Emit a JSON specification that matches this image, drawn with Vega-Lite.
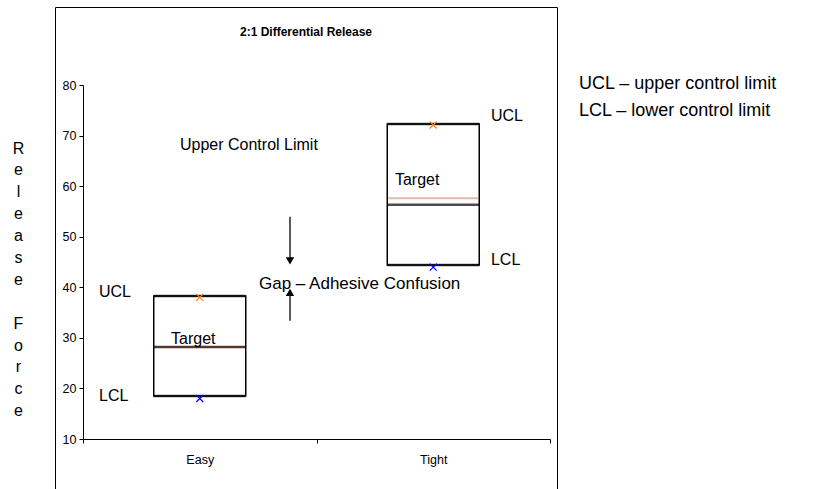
{
  "$schema": "https://vega.github.io/schema/vega-lite/v6.json",
  "width": 502,
  "height": 482,
  "autosize": {"type": "none"},
  "padding": {"left": 55, "top": 7, "right": 261, "bottom": 0},
  "background": "white",
  "config": {"view": {"stroke": "black", "strokeWidth": 1}, "font": "Liberation Sans"},
  "title": {
    "text": "2:1 Differential Release",
    "font": "Liberation Sans Narrow, Arial Narrow, Liberation Sans, sans-serif",
    "fontSize": 12,
    "fontWeight": "bold",
    "color": "black",
    "anchor": "middle",
    "baseline": "alphabetic",
    "offset": -41
  },
  "datasets": {
    "boxes": [
      {"grade": "Easy", "lower": 18.5, "upper": 38.3, "mean": 28.2, "target": 28.2, "ucl": 38.0, "lcl": 18.0},
      {"grade": "Tight", "lower": 44.4, "upper": 72.3, "mean": 56.3, "target": 57.6, "ucl": 72.1, "lcl": 44.0}
    ],
    "notes": [
      {"label": "Upper Control  Limit", "x": 0.4154, "y": 67.05, "role": "label"},
      {"label": "Target", "x": 1.336, "y": 60.2, "role": "label"},
      {"label": "UCL", "x": 1.747, "y": 72.8, "role": "label"},
      {"label": "LCL", "x": 1.747, "y": 44.4, "role": "label"},
      {"label": "Target", "x": 0.377, "y": 28.7, "role": "label"},
      {"label": "UCL", "x": 0.0685, "y": 38.1, "role": "label"},
      {"label": "LCL", "x": 0.0685, "y": 17.6, "role": "label"},
      {"label": "Gap – Adhesive Confusion", "x": 0.7537, "y": 39.6, "role": "gap"},
      {"label": "UCL – upper control limit", "x": 2.124, "y": 79.15, "role": "note"},
      {"label": "LCL –  lower control limit", "x": 2.124, "y": 73.87, "role": "note"}
    ],
    "arrows": [
      {"x": 0.8865, "from": 53.96, "to": 45.2, "dir": "down"},
      {"x": 0.8865, "from": 33.4, "to": 38.97, "dir": "up"}
    ]
  },
  "layer": [
    {
      "data": {"name": "boxes"},
      "encoding": {
        "x": {
          "field": "grade",
          "type": "nominal",
          "scale": {"domain": ["Easy", "Tight"], "range": [28, 495], "paddingInner": 0, "paddingOuter": 0},
          "axis": {
            "title": null,
            "orient": "bottom",
            "offset": -50,
            "tickBand": "extent",
            "tickSize": 4,
            "tickColor": "black",
            "domainColor": "black",
            "labelFont": "Liberation Sans Narrow, Arial Narrow, Liberation Sans, sans-serif",
            "labelFontSize": 12.5,
            "labelColor": "black",
            "labelPadding": 10,
            "labelAngle": 0,
            "grid": false
          }
        }
      },
      "layer": [
        {
          "mark": {"type": "bar", "width": {"band": 0.394}, "fill": "white", "fillOpacity": 0, "stroke": "black", "strokeWidth": 1.5},
          "encoding": {
            "y": {
              "field": "lower",
              "type": "quantitative",
              "scale": {"domain": [10, 80], "range": [432, 78], "nice": false, "zero": false},
              "axis": {
                "title": ["R", "e", "l", "e", "a", "s", "e", "\u2800", "F", "o", "r", "c", "e"],
                "titleAngle": 0,
                "titleFont": "Liberation Sans",
                "titleFontSize": 16,
                "titleFontWeight": "normal",
                "titleColor": "black",
                "titleLineHeight": 21.9,
                "titleX": -65,
                "titleY": 146,
                "titleAlign": "center",
                "titleBaseline": "alphabetic",
                "offset": -28,
                "values": [10, 20, 30, 40, 50, 60, 70, 80],
                "tickSize": 4,
                "tickColor": "black",
                "domainColor": "black",
                "labelPadding": 3,
                "labelFont": "Liberation Sans Narrow, Arial Narrow, Liberation Sans, sans-serif",
                "labelFontSize": 12.5,
                "labelColor": "black",
                "grid": false
              }
            },
            "y2": {"field": "upper"}
          }
        },
        {
          "mark": {"type": "tick", "size": 92, "thickness": 2.5, "color": "black"},
          "encoding": {"y": {"field": "upper", "type": "quantitative"}}
        },
        {
          "mark": {"type": "tick", "size": 92, "thickness": 2.5, "color": "black"},
          "encoding": {"y": {"field": "lower", "type": "quantitative"}}
        },
        {
          "mark": {"type": "tick", "size": 92, "thickness": 2.5, "color": "black"},
          "encoding": {"y": {"field": "mean", "type": "quantitative"}}
        },
        {
          "mark": {"type": "tick", "size": 90, "thickness": 2},
          "encoding": {
            "y": {"field": "target", "type": "quantitative"},
            "color": {"field": "grade", "type": "nominal", "scale": {"domain": ["Easy", "Tight"], "range": ["#5e2f14", "#d29c84"]}, "legend": null}
          }
        },
        {
          "mark": {"type": "point", "shape": "M-1,-1L1,1M1,-1L-1,1", "size": 49, "filled": false, "stroke": "#f5821f", "strokeWidth": 1.2, "opacity": 1},
          "encoding": {"y": {"field": "ucl", "type": "quantitative"}}
        },
        {
          "mark": {"type": "point", "shape": "M-1,-1L1,1M1,-1L-1,1", "size": 49, "filled": false, "stroke": "#0000ff", "strokeWidth": 1.2, "opacity": 1},
          "encoding": {"y": {"field": "lcl", "type": "quantitative"}}
        }
      ]
    },
    {
      "layer": [
        {
          "data": {"name": "notes"},
          "mark": {"type": "text", "align": "left", "baseline": "alphabetic", "font": "Liberation Sans", "color": "black"},
          "encoding": {
            "x": {"field": "x", "type": "quantitative", "scale": {"domain": [0, 2], "range": [28, 495], "nice": false, "zero": false}, "axis": null},
            "y": {"field": "y", "type": "quantitative"},
            "text": {"field": "label"},
            "size": {"field": "role", "type": "ordinal", "scale": {"domain": ["label", "gap", "note"], "range": [16, 18, 21]}, "legend": null}
          }
        },
        {
          "data": {"name": "arrows"},
          "mark": {"type": "rule", "color": "black", "strokeWidth": 1.3},
          "encoding": {
            "x": {"field": "x", "type": "quantitative"},
            "y": {"field": "from", "type": "quantitative"},
            "y2": {"field": "to"}
          }
        },
        {
          "data": {"name": "arrows"},
          "mark": {"type": "point", "filled": true, "color": "black", "size": 70, "opacity": 1},
          "encoding": {
            "x": {"field": "x", "type": "quantitative"},
            "y": {"field": "to", "type": "quantitative"},
            "shape": {"field": "dir", "type": "nominal", "scale": {"domain": ["down", "up"], "range": ["triangle-down", "triangle-up"]}, "legend": null}
          }
        }
      ]
    }
  ],
  "resolve": {"scale": {"x": "independent"}}
}
